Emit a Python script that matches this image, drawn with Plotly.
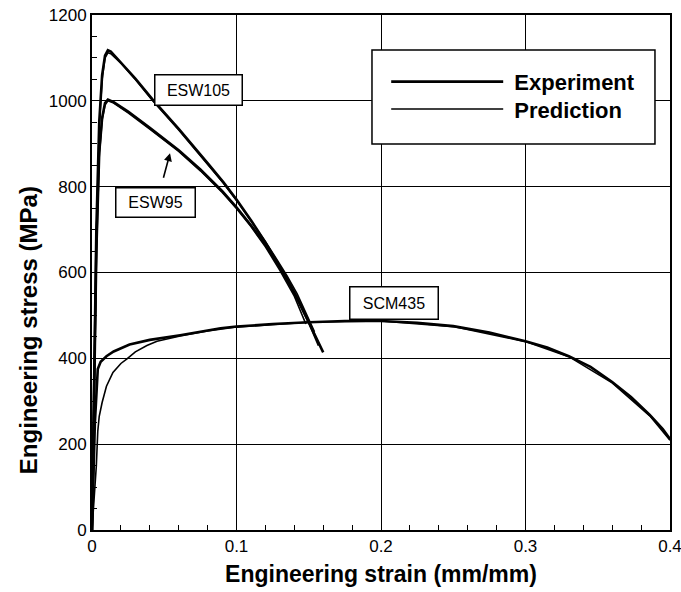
import plotly.graph_objects as go

# ---------------- data (strain in mm/mm, stress in MPa) ----------------
esw105_exp_strain = [0, 0.003, 0.005, 0.007, 0.009, 0.011, 0.013, 0.02, 0.03, 0.042, 0.06, 0.08, 0.091, 0.1, 0.11, 0.12, 0.128, 0.135, 0.142, 0.149, 0.155, 0.16]
esw105_exp_stress = [0, 700, 950, 1060, 1105, 1118, 1115, 1090, 1052, 1003, 935, 855, 810, 770, 722, 670, 625, 585, 540, 490, 450, 414]
esw105_pre_strain = [0, 0.003, 0.005, 0.007, 0.009, 0.011, 0.013, 0.02, 0.03, 0.042, 0.06, 0.08, 0.091, 0.1, 0.11, 0.12, 0.128, 0.135, 0.142, 0.149, 0.154]
esw105_pre_stress = [0, 680, 940, 1050, 1100, 1112, 1110, 1088, 1050, 1000, 932, 853, 808, 768, 720, 672, 630, 592, 550, 500, 462]

esw95_exp_strain = [0, 0.003, 0.005, 0.007, 0.009, 0.011, 0.015, 0.025, 0.04, 0.06, 0.075, 0.09, 0.1, 0.11, 0.12, 0.13, 0.14, 0.15, 0.157]
esw95_exp_stress = [0, 650, 880, 960, 995, 1003, 997, 975, 937, 885, 840, 790, 752, 710, 665, 612, 553, 485, 430]
esw95_pre_strain = [0, 0.003, 0.005, 0.007, 0.009, 0.011, 0.015, 0.025, 0.04, 0.06, 0.075, 0.09, 0.1, 0.11, 0.12, 0.13, 0.14, 0.148]
esw95_pre_stress = [0, 630, 870, 955, 990, 1000, 995, 972, 934, 882, 837, 787, 749, 707, 660, 605, 545, 480]

scm435_exp_strain = [0, 0.002, 0.004, 0.006, 0.01, 0.015, 0.026, 0.04, 0.061, 0.075, 0.089, 0.1, 0.125, 0.15, 0.175, 0.2, 0.225, 0.25, 0.275, 0.3, 0.315, 0.33, 0.345, 0.36, 0.373, 0.386, 0.395, 0.4]
scm435_exp_stress = [0, 250, 375, 392, 405, 416, 432, 443, 454, 462, 470, 474, 480, 484, 487, 487, 483, 475, 460, 440, 425, 405, 380, 345, 310, 268, 235, 212]
scm435_pre_strain = [0, 0.003, 0.004, 0.005, 0.007, 0.01, 0.0145, 0.02, 0.024, 0.03, 0.038, 0.045, 0.061, 0.08, 0.1, 0.15, 0.2, 0.25, 0.3, 0.33, 0.36, 0.386, 0.4]
scm435_pre_stress = [0, 150, 230, 265, 297, 335, 367, 388, 398, 415, 430, 440, 452, 464, 473, 484, 487, 474, 439, 404, 343, 266, 209]

x_ticks = [0, 0.1, 0.2, 0.3, 0.4]
x_tick_labels = ["0", "0.1", "0.2", "0.3", "0.4"]
y_ticks = [0, 200, 400, 600, 800, 1000, 1200]
y_tick_labels = ["0", "200", "400", "600", "800", "1000", "1200"]

# ---------------- figure ----------------
TICK_FONT = dict(family="Liberation Sans Narrow, Arial Narrow, Liberation Sans, Arial, sans-serif", size=17, color="black")
TITLE_FONT = dict(family="Liberation Sans, Arial, sans-serif", size=23, color="black", weight="bold")
YTITLE_FONT = dict(family="Liberation Sans, Arial, sans-serif", size=24, color="black", weight="bold")
LEG_FONT = dict(family="Liberation Sans, Arial, sans-serif", size=22, color="black", weight="bold")

fig = go.Figure()

def add(x, y, name, width, show, legend):
    fig.add_trace(go.Scatter(x=x, y=y, mode="lines", name=name, legendgroup=name,
                             showlegend=show, legend=legend, line=dict(color="black", width=width)))

add(esw105_exp_strain, esw105_exp_stress, "\u00a0Experiment", 2.6, True, "legend")
add(esw95_exp_strain, esw95_exp_stress, "\u00a0Experiment", 2.6, False, "legend")
add(scm435_exp_strain, scm435_exp_stress, "\u00a0Experiment", 2.6, False, "legend")
add(esw105_pre_strain, esw105_pre_stress, "\u00a0Prediction", 1.6, True, "legend2")
add(esw95_pre_strain, esw95_pre_stress, "\u00a0Prediction", 1.6, False, "legend2")
add(scm435_pre_strain, scm435_pre_stress, "\u00a0Prediction", 1.6, False, "legend2")

axis_common = dict(showline=True, linecolor="black", linewidth=2, mirror=True,
                   showgrid=True, gridcolor="black", gridwidth=1.3,
                   ticks="inside", ticklen=5, tickcolor="black", tickwidth=1.2,
                   zeroline=False, tickfont=TICK_FONT, automargin=False,
                   ticklabeloverflow="allow")

fig.update_xaxes(range=[0, 0.4], tickvals=x_ticks, ticktext=x_tick_labels,
                 minor=dict(dtick=0.02, ticks="inside", ticklen=5, tickcolor="black", showgrid=False),
                 title=dict(text="Engineering strain (mm/mm)", font=TITLE_FONT, standoff=10),
                 **axis_common)
fig.update_yaxes(range=[0, 1200], tickvals=y_ticks, ticktext=y_tick_labels,
                 minor=dict(dtick=50, ticks="inside", ticklen=5, tickcolor="black", showgrid=False),
                 **axis_common)

# y-axis title (sits a little below the axis centre, as in the original)
fig.add_annotation(xref="paper", yref="paper", x=-0.1107, y=0.388, text="Engineering stress (MPa)",
                   textangle=-90, showarrow=False, font=YTITLE_FONT, xanchor="center", yanchor="middle")

# legend frame
fig.add_shape(type="rect", xref="paper", yref="paper", x0=0.4844, x1=0.974, y0=0.7495, y1=0.932,
              line=dict(color="black", width=1.5), fillcolor="white", layer="above")

leg_common = dict(xanchor="left", yanchor="top", bgcolor="rgba(0,0,0,0)", borderwidth=0,
                  itemwidth=112, font=LEG_FONT)
fig.update_layout(
    width=681, height=592,
    margin=dict(l=92, r=11, t=15, b=62, autoexpand=False),
    paper_bgcolor="white", plot_bgcolor="white",
    legend=dict(x=0.509, y=0.911, **leg_common),
    legend2=dict(x=0.509, y=0.858, **leg_common),
    showlegend=True,
)

box_font = dict(family="Liberation Sans, Arial, sans-serif", size=16, color="black")
fig.add_annotation(x=0.074, y=1025, text="ESW105", showarrow=False, font=box_font,
                   bgcolor="white", bordercolor="black", borderwidth=1.5, width=84, height=27)
fig.add_annotation(x=0.0436, y=763, text="ESW95", showarrow=False, font=box_font,
                   bgcolor="white", bordercolor="black", borderwidth=1.5, width=76, height=26)
fig.add_annotation(x=0.209, y=529, text="SCM435", showarrow=False, font=box_font,
                   bgcolor="white", bordercolor="black", borderwidth=1.5, width=85, height=29)
fig.add_annotation(x=0.054, y=878, ax=-7, ay=26, text="", showarrow=True,
                   arrowhead=2, arrowsize=1, arrowwidth=1.6, arrowcolor="black")

fig.write_html("out.html", config={"displayModeBar": False},
               post_script="document.body.style.margin='0';")
